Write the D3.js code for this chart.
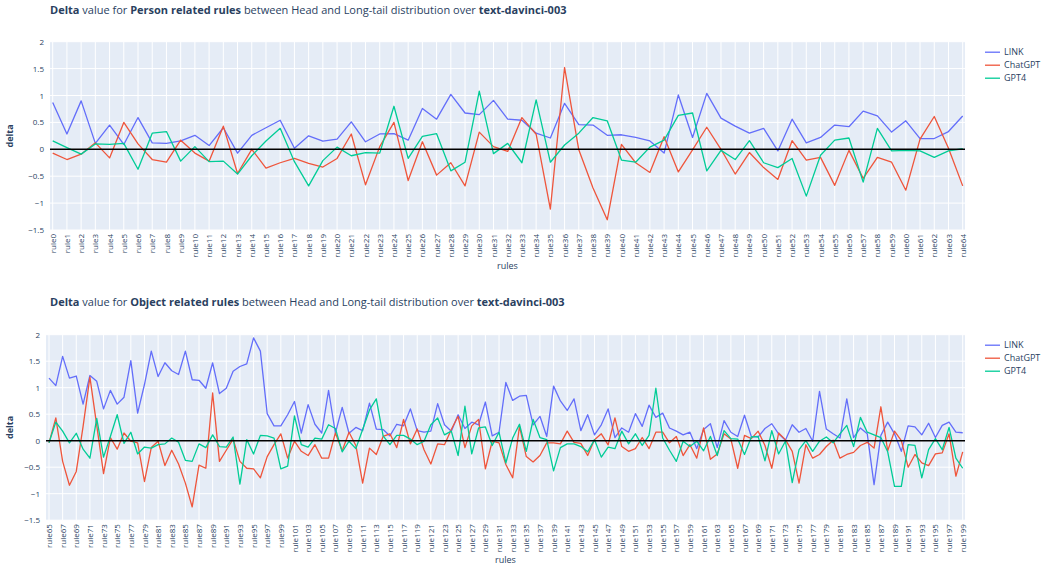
<!DOCTYPE html>
<html>
<head>
<meta charset="utf-8">
<script src="https://cdn.jsdelivr.net/npm/d3@7"></script>
<style>
  body { margin: 0; background: #fff; }
  text { font-family: "Open Sans", sans-serif; }
</style>
</head>
<body>
<svg id="chart" width="1043" height="566"></svg>
<script>
// series names + tick labels
const seriesNames = ["LINK", "ChatGPT", "GPT4"];
const seriesColors = ["#636efa", "#EF553B", "#00cc96"];
const yTickValues = [2, 1.5, 1, 0.5, 0, -0.5, -1, -1.5];

// Person related rules: rule0 .. rule64
const personRules = d3.range(0, 65).map(i => "rule" + i);
const personLink = [0.87, 0.285, 0.90, 0.11, 0.45, 0.09, 0.59, 0.12, 0.11, 0.155, 0.26, 0.07, 0.40, -0.07, 0.26, 0.40, 0.54, 0.02, 0.25, 0.15, 0.19, 0.51,
  0.14, 0.285, 0.29, 0.17, 0.76, 0.56, 1.02, 0.675, 0.645, 0.91, 0.56, 0.54, 0.30, 0.21, 0.855, 0.46, 0.45, 0.26, 0.27, 0.22, 0.155, -0.07,
  1.01, 0.22, 1.04, 0.58, 0.43, 0.30, 0.39, -0.03, 0.56, 0.12, 0.22, 0.45, 0.42, 0.71, 0.62, 0.32, 0.53, 0.20, 0.20, 0.33, 0.62];
const personChatGPT = [-0.07, -0.19, -0.09, 0.12, -0.16, 0.50, 0.10, -0.19, -0.24, 0.17, -0.07, -0.22, 0.43, -0.45, 0, -0.35, -0.25, -0.17, -0.26, -0.33, -0.17, 0.285,
  -0.66, 0.05, 0.50, -0.58, 0.14, -0.48, -0.25, -0.68, 0.32, 0.05, -0.04, 0.59, 0.28, -1.11, 1.52, -0.01, -0.72, -1.31, 0.09, -0.25, -0.43, 0.235,
  -0.42, -0.01, 0.41, 0, -0.46, -0.06, -0.34, -0.56, 0.16, -0.20, -0.15, -0.67, -0.02, -0.54, -0.15, -0.24, -0.76, 0.19, 0.61, 0.02, -0.68];
const personGPT4 = [0.155, 0.03, -0.09, 0.10, 0.09, 0.11, -0.37, 0.30, 0.33, -0.22, 0.05, -0.23, -0.22, -0.46, -0.12, 0.155, 0.39, -0.23, -0.68, -0.21, 0.04, -0.12,
  -0.06, -0.07, 0.80, -0.17, 0.24, 0.29, -0.40, -0.24, 1.08, -0.08, 0.11, -0.25, 0.92, -0.24, 0.08, 0.30, 0.59, 0.53, -0.20, -0.24, 0.04, 0.17,
  0.63, 0.675, -0.40, -0.02, -0.19, 0.16, -0.25, -0.34, -0.17, -0.87, -0.11, 0.17, 0.21, -0.61, 0.39, -0.03, -0.02, -0.03, -0.15, -0.03, 0.01];

// Object related rules: rule65 .. rule199
const objectRules = d3.range(65, 200).map(i => "rule" + i);
const objectLink = [1.18, 1.04, 1.59, 1.18, 1.22, 0.69, 1.23, 1.12, 0.60, 0.95, 0.69, 0.82, 1.51, 0.52, 1.06, 1.69, 1.21, 1.47, 1.32, 1.25, 1.69, 1.15, 1.14, 0.99, 1.47, 0.89, 0.99, 1.31,
  1.40, 1.45, 1.94, 1.69, 0.51, 0.28, 0.28, 0.49, 0.74, 0.145, 0.68, 0.31, 0.145, 0.95, 0.145, 0.63, 0.14, 0.25, 0.19, 0.71, 0.22, 0.21, 0.09, 0.31, 0.28, 0.60, 0.19, 0.16,
  0.18, 0.70, 0.30, 0.18, 0.49, 0.23, 0.35, 0.30, 0.73, 0.09, 0.16, 1.10, 0.76, 0.84, 0.855, 0.30, 0.46, 0.08, 1.03, 0.75, 0.57, 0.79, 0.19, 0.49, 0.11, 0.30, 0.60,
  0.06, 0.24, 0.16, 0.51, 0.27, 0.67, 0.44, 0.52, 0.24, 0.18, 0.11, 0.16, -0.15, 0.21, 0.32, -0.13, 0.38, 0.16, 0.08, 0.48, 0.08, 0.07, 0.23, 0.32, 0.13, 0.01, 0.30,
  0.16, 0.23, -0.01, 0.93, 0.22, 0.13, 0.05, 0.79, 0.06, 0.24, 0.13, -0.83, 0.10, 0.35, 0.13, -0.20, 0.28, 0.26, 0.11, 0.33, 0.06, 0.29, 0.35, 0.16, 0.15];
const objectChatGPT = [-0.04, 0.43, -0.39, -0.84, -0.58, 0.27, 1.20, 0.29, -0.62, 0.06, -0.16, 0.145, -0.01, -0.04, -0.77, -0.13, -0.01, -0.47, -0.18, -0.44, -0.80, -1.25, -0.46, -0.52, 0.90, -0.39, -0.18, 0.03,
  -0.39, -0.52, -0.53, -0.70, -0.30, -0.075, 0.13, -0.33, -0.01, -0.20, -0.28, -0.075, -0.33, -0.33, 0.145, -0.19, 0.16, -0.09, -0.80, -0.14, -0.26, 0.08, 0.13, -0.13, 0.40, -0.06, 0.22, -0.17,
  -0.44, -0.06, -0.075, 0.21, 0.46, -0.13, 0.28, 0.40, -0.53, -0.01, -0.04, -0.45, -0.70, 0.27, -0.30, -0.40, -0.28, -0.04, -0.04, -0.06, 0.18, -0.03, -0.05, -0.28, 0.02, 0.13, -0.08,
  0.43, -0.11, -0.20, -0.15, 0.06, -0.15, 0.16, 0.16, -0.04, 0.08, -0.28, -0.075, -0.33, 0.24, -0.35, -0.25, 0.13, 0.03, -0.52, 0.10, 0.04, 0.18, -0.09, -0.52, 0.145, 0.02, -0.20,
  -0.80, -0.075, -0.33, -0.26, -0.11, 0.01, -0.33, -0.26, -0.22, -0.09, -0.03, -0.14, 0.64, -0.19, 0.18, 0, -0.50, -0.26, -0.42, -0.47, -0.25, -0.23, 0.13, -0.67, -0.21];
const objectGPT4 = [-0.04, 0.35, 0.18, -0.04, 0.14, -0.16, -0.33, 0.42, -0.31, 0.08, 0.49, -0.05, 0.16, -0.25, -0.12, -0.14, -0.075, -0.06, 0.05, -0.03, -0.37, -0.39, -0.06, -0.13, 0.11, -0.11, -0.12, 0.07,
  -0.82, 0.02, -0.25, 0.10, 0.09, 0.05, -0.53, -0.48, 0.47, -0.075, -0.12, 0.05, 0.03, 0.30, 0.23, -0.21, -0.01, -0.15, 0.21, 0.58, 0.79, 0.09, -0.075, 0.10, 0.10, 0.03, -0.075, -0.01,
  0.30, 0.43, 0.11, 0.18, -0.28, 0.65, -0.25, 0.24, 0.26, -0.09, 0.16, -0.42, 0.05, 0.31, -0.20, 0.40, 0.06, 0.02, -0.57, -0.13, -0.06, -0.06, -0.11, -0.21, 0.02, -0.31, -0.12,
  -0.15, 0.18, -0.06, 0.13, -0.09, 0.10, 0.99, 0.05, -0.18, -0.39, -0.01, -0.11, -0.01, -0.19, 0.08, -0.28, 0.19, 0.04, 0.03, -0.26, 0.07, 0.08, -0.38, 0.19, -0.25, -0.01, -0.79,
  -0.17, 0, -0.20, -0.01, 0.07, -0.04, 0.13, 0.29, -0.11, 0.44, 0.16, 0.11, 0.06, -0.21, -0.86, -0.86, -0.075, -0.09, -0.70, -0.17, 0.04, -0.17, 0.25, -0.33, -0.52];

const svg = d3.select("#chart");
const textColor = "#2a3f5f";

function drawPanel(opt) {
  const g = svg.append("g");

  // title: bold / normal pieces
  const title = g.append("text")
    .attr("x", 50)
    .attr("y", opt.titleY)
    .attr("fill", textColor)
    .attr("font-size", "11px");
  opt.titleParts.forEach(p => {
    title.append("tspan").attr("font-weight", p[1] ? "bold" : "normal").text(p[0]);
  });

  const x = d3.scalePoint()
    .domain(opt.categories)
    .range([opt.x0, opt.x1]);
  const y = d3.scaleLinear()
    .domain([-1.5, 2])
    .range([opt.bottom, opt.top]);

  g.append("rect")
    .attr("x", opt.left)
    .attr("y", opt.top)
    .attr("width", opt.right - opt.left)
    .attr("height", opt.bottom - opt.top)
    .attr("fill", "#E5ECF6");

  const tickCats = opt.categories.filter((d, i) => i % opt.tickStep === 0);

  // grid
  g.selectAll(".vgrid")
    .data(tickCats)
    .enter()
    .append("line")
    .attr("x1", d => x(d)).attr("x2", d => x(d))
    .attr("y1", opt.top).attr("y2", opt.bottom)
    .attr("stroke", "#fff")
    .attr("stroke-width", 1);
  g.selectAll(".hgrid")
    .data(yTickValues)
    .enter()
    .append("line")
    .attr("x1", opt.left).attr("x2", opt.right)
    .attr("y1", d => y(d)).attr("y2", d => y(d))
    .attr("stroke", "#fff")
    .attr("stroke-width", 1);

  // y axis labels
  const yAxis = g.append("g")
    .attr("transform", `translate(${opt.left},0)`)
    .call(d3.axisLeft(y).tickValues(yTickValues).tickSize(0).tickPadding(6).tickFormat(d3.format("")));
  yAxis.select(".domain").remove();
  yAxis.selectAll("text").attr("fill", textColor).attr("font-size", "8px").style("font-family", '"Open Sans", sans-serif');

  // x axis labels
  const xAxis = g.append("g")
    .attr("transform", `translate(0,${opt.bottom})`)
    .call(d3.axisBottom(x).tickValues(tickCats).tickSize(0));
  xAxis.select(".domain").remove();
  xAxis.selectAll("text")
    .attr("transform", "rotate(-90)")
    .attr("text-anchor", "end")
    .attr("x", -4)
    .attr("y", 0)
    .attr("dy", "0.32em")
    .attr("fill", textColor)
    .attr("font-size", "8px")
    .style("font-family", '"Open Sans", sans-serif');

  // lines
  const line = d3.line()
    .x((d, i) => x(opt.categories[i]))
    .y(d => y(d));
  opt.values.forEach((vals, k) => {
    g.append("path")
      .datum(vals)
      .attr("d", line)
      .attr("fill", "none")
      .attr("stroke", seriesColors[k])
      .attr("stroke-width", 1.3)
      .attr("stroke-linejoin", "round");
  });

  // zero line
  g.append("line")
    .attr("x1", opt.left).attr("x2", opt.right)
    .attr("y1", y(0)).attr("y2", y(0))
    .attr("stroke", "#000")
    .attr("stroke-width", 1.5);

  // axis titles
  g.append("text")
    .attr("transform", `translate(13,${(opt.top + opt.bottom) / 2}) rotate(-90)`)
    .attr("text-anchor", "middle")
    .attr("fill", textColor)
    .attr("font-size", "9px")
    .attr("font-weight", "bold")
    .text("delta");
  g.append("text")
    .attr("x", (opt.left + opt.right) / 2)
    .attr("y", opt.xTitleY)
    .attr("text-anchor", "middle")
    .attr("fill", textColor)
    .attr("font-size", "9px")
    .text("rules");

  // legend
  const leg = g.selectAll(".leg")
    .data(seriesNames)
    .enter()
    .append("g")
    .attr("transform", (d, i) => `translate(985,${opt.top + 10.5 + i * 13})`);
  leg.append("line")
    .attr("x1", 0).attr("x2", 15)
    .attr("stroke", (d, i) => seriesColors[i])
    .attr("stroke-width", 1.3);
  leg.append("text")
    .attr("x", 19)
    .attr("dy", "0.35em")
    .attr("fill", textColor)
    .attr("font-size", "9px")
    .text(d => d);
}

drawPanel({
  titleY: 14,
  titleParts: [["Delta", true], [" value for ", false], ["Person related rules", true], [" between Head and Long-tail distribution over ", false], ["text-davinci-003", true]],
  categories: personRules,
  values: [personLink, personChatGPT, personGPT4],
  left: 50, right: 965, top: 41.7, bottom: 230,
  x0: 52.7, x1: 962.7,
  tickStep: 1,
  xTitleY: 269
});

drawPanel({
  titleY: 306,
  titleParts: [["Delta", true], [" value for ", false], ["Object related rules", true], [" between Head and Long-tail distribution over ", false], ["text-davinci-003", true]],
  categories: objectRules,
  values: [objectLink, objectChatGPT, objectGPT4],
  left: 46, right: 965, top: 334.7, bottom: 520.2,
  x0: 49, x1: 962.7,
  tickStep: 2,
  xTitleY: 563
});
</script>
</body>
</html>
